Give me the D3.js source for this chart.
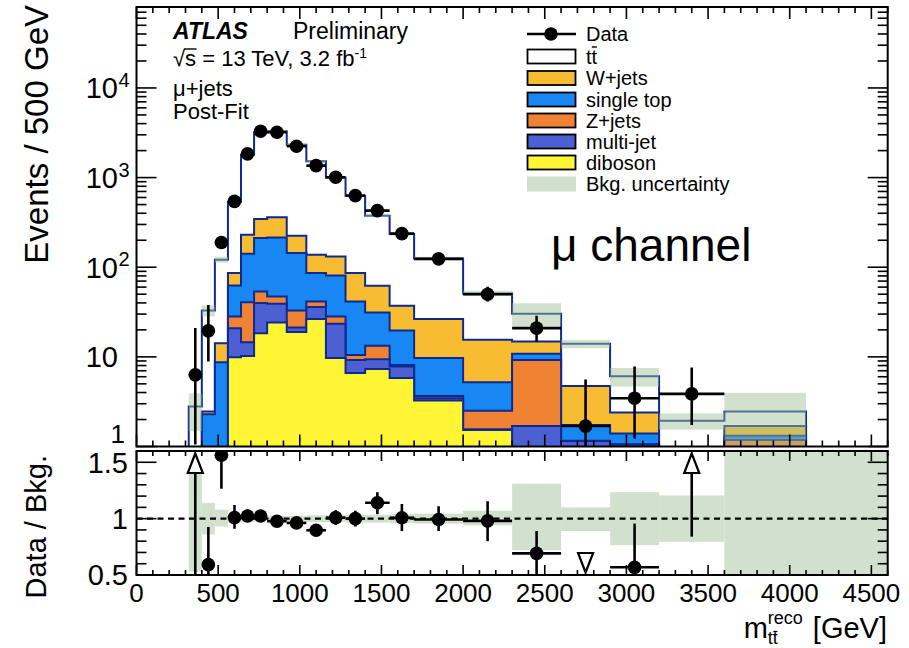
<!DOCTYPE html>
<html>
<head>
<meta charset="utf-8">
<script src="https://cdn.jsdelivr.net/npm/d3@7/dist/d3.min.js"></script>
<style>
  html, body { margin: 0; padding: 0; background: #ffffff; }
  svg { display: block; font-family: "Liberation Sans", Arial, Helvetica, sans-serif; }
</style>
</head>
<body>
<svg id="chart" width="909" height="648"></svg>
<script>
// ---- Binning of the reconstructed m(tt) distribution [GeV] ----
const binEdges = [320, 400, 480, 560, 640, 720, 800, 920, 1040, 1160, 1280, 1400, 1550, 1700, 2000, 2300, 2600, 2900, 3200, 3600, 4100, 4600];

// ---- Post-fit predictions, events / 500 GeV ----
const ttbar     = [2.3, 30.5, 106.8, 452, 1567, 2867, 2922, 2101, 1379, 866, 543, 313, 198, 98.6, 35.5, 15.4, 9.3, 3.7, 1.34, 0.76, 0];
const wjets     = [0.2, 0.16, 5.5, 23.5, 89.4, 134, 145, 81, 52, 51, 44.5, 30.9, 17.4, 16.7, 10.3, 4.0, 3.0, 0.99, 0.3, 0.37, 0];
const singleTop = [0.15, 1.79, 7.9, 34.4, 100.8, 158.3, 167.8, 111.1, 44.5, 52.8, 31, 18, 11.6, 6.03, 2.69, 1.55, 0.58, 0.34, 0.1, 0.14, 0];
const zjets     = [0.05, 0.3, 0.3, 7.3, 26.2, 13.9, 8.1, 11.6, 5.6, 4.8, 1.25, 3.9, 0.3, 0.21, 0.95, 7.56, 0.01, 0.01, 0.1, 0.78, 0];
const multijet  = [0.05, 0.1, 0.2, 11.0, 4.35, 21.4, 14.9, 2.4, 9.5, 13.7, 2.65, 2.1, 2.0, 0.21, 0.03, 1.29, 1.05, 0.95, 0.05, 0.1, 0];
const diboson   = [0.05, 0.1, 0.3, 9.9, 10.25, 18.4, 24.2, 18.9, 26.4, 9.7, 6.6, 7.3, 5.8, 3.25, 1.53, 0.4, 0.1, 0.1, 0.05, 0.3, 0];

// ---- Data, events / 500 GeV, with error bar ends ----
const dataValues  = [6.3, 19.5, 189, 543, 1841, 3290, 3207, 2238, 1361, 1007, 629, 428, 237, 124, 50, 20.9, 1.69, 3.46, 3.86, 0, 0];
const dataErrLow  = [1.05, 8.9, 160, 488, 1735, 3150, 3090, 2145, 1290, 945, 580, 392, 210, 110, 41.5, 14.8, 0.2, 1.23, 1.74, 0, 0];
const dataErrHigh = [21, 38, 222, 601, 1950, 3435, 3325, 2335, 1435, 1072, 680, 466, 266, 139, 60.5, 28.7, 5.6, 7.8, 7.6, 0, 0];

// ---- Data / Bkg. error bar ends ----
const ratioErrLow  = [0.0, 0.3, 1.265, 0.91, 0.97, 0.985, 0.94, 0.92, 0.86, 0.945, 0.93, 1.04, 0.89, 0.89, 0.80, 0.3, 0.0, 0.2, 0.84, 0, 0];
const ratioErrHigh = [3.0, 0.926, 1.9, 1.12, 1.08, 1.065, 1.015, 1.005, 0.935, 1.075, 1.07, 1.235, 1.13, 1.11, 1.155, 0.89, 0.0, 0.956, 3.0, 0, 0];

// ---- Relative background uncertainty (down / up) ----
const bandLow  = [0.53, 0.86, 0.93, 0.965, 0.97, 0.975, 0.975, 0.975, 0.97, 0.97, 0.965, 0.965, 0.96, 0.955, 0.94, 0.72, 0.89, 0.765, 0.794, 0.2, 0.2];
const bandHigh = [1.40, 1.14, 1.08, 1.035, 1.03, 1.025, 1.025, 1.025, 1.03, 1.03, 1.035, 1.035, 1.04, 1.045, 1.07, 1.31, 1.10, 1.235, 1.206, 1.62, 1.8];

// ---- Axis ticks ----
const xTickLabels = [0, 500, 1000, 1500, 2000, 2500, 3000, 3500, 4000, 4500];
const yDecades = [0, 1, 2, 3, 4];
const ratioTickLabels = [0.5, 1, 1.5];

// ---- Legend ----
const legendLabels = ["Data", "tt", "W+jets", "single top", "Z+jets", "multi-jet", "diboson", "Bkg. uncertainty"];
const legendKeys   = ["data", "ttbar", "wjets", "singletop", "zjets", "multijet", "diboson", "band"];

// ---------------------------------------------------------------
const svg = d3.select("#chart");
const left = 136.5, right = 887.7;
const mainTop = 7, mainBottom = 446.5;
const ratioTop = 451, ratioBottom = 575;

const x = d3.scaleLinear().domain([0, 4600]).range([left, right]);
const y = d3.scaleLog().domain([1, 8e4]).range([mainBottom, mainTop]);
const yr = d3.scaleLinear().domain([0.5, 1.6]).range([ratioBottom, ratioTop]);

const layerKeys = ["diboson", "multijet", "zjets", "singletop", "wjets", "ttbar"];
const layerColors = {
  ttbar: "#ffffff", wjets: "#f8bc33", singletop: "#1886f3",
  zjets: "#ef8233", multijet: "#4c60d4", diboson: "#fff534"
};
const outlineColor = "#0e2a8e";
const bandColor = "rgb(161,192,151)";
const bandSolid = "rgb(210,225,205)";

const rows = binEdges.slice(0, -1).map((e, i) => ({
  lo: e, hi: binEdges[i + 1],
  diboson: diboson[i], multijet: multijet[i], zjets: zjets[i],
  singletop: singleTop[i], wjets: wjets[i], ttbar: ttbar[i]
}));
const stacked = d3.stack().keys(layerKeys)(rows);
const totals = stacked[stacked.length - 1].map(d => d[1]);
const mainBins = rows.map((r, i) => i).filter(i => totals[i] > 0);

svg.append("rect").attr("width", 909).attr("height", 648).attr("fill", "#fff");

const defs = svg.append("defs");
defs.append("clipPath").attr("id", "clipMain").append("rect")
  .attr("x", left).attr("y", mainTop).attr("width", right - left).attr("height", mainBottom - mainTop);
defs.append("clipPath").attr("id", "clipRatio").append("rect")
  .attr("x", left).attr("y", ratioTop).attr("width", right - left).attr("height", ratioBottom - ratioTop);

// ---------------- main panel: stacked histograms ----------------
const gMain = svg.append("g").attr("clip-path", "url(#clipMain)");
const yv = v => (v > 1 ? y(v) : mainBottom + 4);
const line = d3.line();

function stepPoints(vals) {
  const first = mainBins[0], last = mainBins[mainBins.length - 1];
  const pts = [[x(binEdges[first]), mainBottom + 4]];
  mainBins.forEach(i => {
    pts.push([x(binEdges[i]), yv(vals[i])]);
    pts.push([x(binEdges[i + 1]), yv(vals[i])]);
  });
  pts.push([x(binEdges[last + 1]), mainBottom + 4]);
  return pts;
}

// top layer first, so each lower layer paints over it
for (let k = stacked.length - 1; k >= 0; k--) {
  const layer = stacked[k];
  const tops = layer.map(d => d[1]);
  gMain.append("path")
    .attr("d", line(stepPoints(tops)) + "Z")
    .attr("fill", layerColors[layer.key])
    .attr("stroke", outlineColor)
    .attr("stroke-width", 2)
    .attr("stroke-linejoin", "miter");
}

// background uncertainty band
gMain.selectAll("rect.band").data(mainBins).enter().append("rect")
  .attr("class", "band")
  .attr("x", i => x(binEdges[i]))
  .attr("width", i => x(binEdges[i + 1]) - x(binEdges[i]))
  .attr("y", i => y(totals[i] * bandHigh[i]))
  .attr("height", i => yv(totals[i] * bandLow[i]) - y(totals[i] * bandHigh[i]))
  .attr("fill", bandColor).attr("fill-opacity", 0.48);

// data points
const dataBins = rows.map((r, i) => i).filter(i => dataValues[i] > 0);
const gData = gMain.append("g");
dataBins.forEach(i => {
  const cx = x((binEdges[i] + binEdges[i + 1]) / 2);
  gData.append("line")
    .attr("x1", x(binEdges[i])).attr("x2", x(binEdges[i + 1]))
    .attr("y1", y(dataValues[i])).attr("y2", y(dataValues[i]))
    .attr("stroke", "#000").attr("stroke-width", 2.6);
  gData.append("line")
    .attr("x1", cx).attr("x2", cx)
    .attr("y1", yv(dataErrLow[i])).attr("y2", y(dataErrHigh[i]))
    .attr("stroke", "#000").attr("stroke-width", 2.6);
  gData.append("circle").attr("cx", cx).attr("cy", y(dataValues[i])).attr("r", 6.8).attr("fill", "#000");
});

// ---------------- ratio panel ----------------
const gRatio = svg.append("g").attr("clip-path", "url(#clipRatio)");
gRatio.selectAll("rect.rband").data(rows.map((r, i) => i)).enter().append("rect")
  .attr("class", "rband")
  .attr("x", i => x(binEdges[i]))
  .attr("width", i => x(binEdges[i + 1]) - x(binEdges[i]))
  .attr("y", i => yr(bandHigh[i]))
  .attr("height", i => yr(bandLow[i]) - yr(bandHigh[i]))
  .attr("fill", bandSolid);

gRatio.append("line")
  .attr("x1", left).attr("x2", right).attr("y1", yr(1)).attr("y2", yr(1))
  .attr("stroke", "#000").attr("stroke-width", 2.2).attr("stroke-dasharray", "6,4.5");

dataBins.forEach(i => {
  const cx = x((binEdges[i] + binEdges[i + 1]) / 2);
  const r = dataValues[i] / totals[i];
  if (r > 1.6) {
    // off-scale upwards: open arrow
    const lo = Math.max(ratioErrLow[i], 0.4);
    gRatio.append("line").attr("x1", cx).attr("x2", cx)
      .attr("y1", yr(lo)).attr("y2", ratioTop + 22)
      .attr("stroke", "#000").attr("stroke-width", 2.6);
    gRatio.append("path")
      .attr("d", line([[cx, ratioTop + 2.5], [cx - 7.5, ratioTop + 22], [cx + 7.5, ratioTop + 22]]) + "Z")
      .attr("fill", "#fff").attr("stroke", "#000").attr("stroke-width", 2.2);
  } else if (r < 0.5) {
    // off-scale downwards: open arrow
    gRatio.append("path")
      .attr("d", line([[cx, ratioBottom - 2.5], [cx - 7.5, ratioBottom - 22], [cx + 7.5, ratioBottom - 22]]) + "Z")
      .attr("fill", "#fff").attr("stroke", "#000").attr("stroke-width", 2.2);
  } else {
    gRatio.append("line")
      .attr("x1", x(binEdges[i])).attr("x2", x(binEdges[i + 1]))
      .attr("y1", yr(r)).attr("y2", yr(r))
      .attr("stroke", "#000").attr("stroke-width", 2.6);
    gRatio.append("line").attr("x1", cx).attr("x2", cx)
      .attr("y1", yr(Math.max(ratioErrLow[i], 0.4))).attr("y2", yr(Math.min(ratioErrHigh[i], 1.7)))
      .attr("stroke", "#000").attr("stroke-width", 2.6);
    gRatio.append("circle").attr("cx", cx).attr("cy", yr(r)).attr("r", 6.8).attr("fill", "#000");
  }
});

// ---------------- frames and ticks ----------------
const axes = svg.append("g").attr("stroke", "#000").attr("stroke-width", 1.6);
function tick(x1, y1, x2, y2) {
  axes.append("line").attr("x1", x1).attr("y1", y1).attr("x2", x2).attr("y2", y2);
}
// x ticks, both panels, top and bottom edges
d3.range(0, 4601, 100).forEach(v => {
  const major = v % 500 === 0;
  const px = x(v);
  const lm = major ? 12 : 6;
  tick(px, mainBottom, px, mainBottom - lm);
  tick(px, mainTop, px, mainTop + lm);
  const lr = major ? 10 : 5;
  tick(px, ratioBottom, px, ratioBottom - lr);
  tick(px, ratioTop, px, ratioTop + lr);
});
// log y ticks, main panel
yDecades.forEach(p => {
  d3.range(1, 10).forEach(m => {
    const v = m * Math.pow(10, p);
    if (v > 8e4) return;
    const py = y(v);
    const l = m === 1 ? 20 : 10;
    tick(left, py, left + l, py);
    tick(right, py, right - l, py);
  });
});
// ratio y ticks
d3.range(5, 17).forEach(k => {
  const v = k / 10;
  const py = yr(v);
  const l = (k % 5 === 0) ? 20 : 10;
  tick(left, py, left + l, py);
  tick(right, py, right - l, py);
});
svg.append("rect").attr("x", left).attr("y", mainTop).attr("width", right - left).attr("height", mainBottom - mainTop)
  .attr("fill", "none").attr("stroke", "#000").attr("stroke-width", 2);
svg.append("rect").attr("x", left).attr("y", ratioTop).attr("width", right - left).attr("height", ratioBottom - ratioTop)
  .attr("fill", "none").attr("stroke", "#000").attr("stroke-width", 2);

// ---------------- tick labels ----------------
const labels = svg.append("g").attr("fill", "#000");
xTickLabels.forEach(v => {
  labels.append("text").attr("x", x(v)).attr("y", 602).attr("text-anchor", "middle")
    .attr("font-size", 26).text(v);
});
yDecades.forEach(p => {
  const py = y(Math.pow(10, p));
  if (p === 0) {
    labels.append("text").attr("x", 125).attr("y", 443).attr("text-anchor", "end").attr("font-size", 26).text("1");
  } else {
    labels.append("text").attr("x", 118).attr("y", py + 10.4).attr("text-anchor", "end").attr("font-size", 29).text("10");
    if (p > 1) {
      labels.append("text").attr("x", 118.5).attr("y", py - 1).attr("font-size", 20).text(p);
    }
  }
});
ratioTickLabels.forEach(v => {
  labels.append("text").attr("x", 128).attr("y", yr(v) + 10.4).attr("text-anchor", "end")
    .attr("font-size", 29).text(v);
});

// axis titles
labels.append("text").attr("transform", "translate(48,5) rotate(-90)")
  .attr("text-anchor", "end").attr("font-size", 33).text("Events / 500 GeV");
labels.append("text").attr("transform", "translate(46,455) rotate(-90)")
  .attr("text-anchor", "end").attr("font-size", 29).text("Data / Bkg.");

const gev = labels.append("text").attr("x", 887).attr("y", 638).attr("text-anchor", "end")
  .attr("font-size", 29).text("[GeV]");
const gevStart = 887 - gev.node().getComputedTextLength();
labels.append("text").attr("x", gevStart - 45).attr("y", 624).attr("font-size", 18).text("reco");
const sub = labels.append("text").attr("x", gevStart - 45).attr("y", 644).attr("font-size", 18).text("tt");
labels.append("text").attr("x", gevStart - 45).attr("y", 638).attr("text-anchor", "end")
  .attr("font-size", 29).text("m");
{
  const n = sub.node();
  const x0 = n.getStartPositionOfChar(1).x, x1 = n.getEndPositionOfChar(1).x;
  labels.append("line").attr("x1", x0 + 0.5).attr("x2", x1 - 0.5).attr("y1", 631.5).attr("y2", 631.5)
    .attr("stroke", "#000").attr("stroke-width", 1.3);
}

// ---------------- annotations ----------------
labels.append("text").attr("x", 173).attr("y", 39).attr("font-size", 23)
  .attr("font-weight", "bold").attr("font-style", "italic").text("ATLAS");
labels.append("text").attr("x", 293).attr("y", 39).attr("font-size", 23).text("Preliminary");
const sqrtText = labels.append("text").attr("x", 173).attr("y", 66).attr("font-size", 22);
sqrtText.append("tspan").text("\u221As = 13 TeV, 3.2 fb");
sqrtText.append("tspan").attr("font-size", 14).attr("dy", -8).text("-1");
{
  const n = sqrtText.node();
  const sx0 = n.getStartPositionOfChar(1).x, sx1 = n.getEndPositionOfChar(1).x;
  labels.append("line").attr("x1", sx0 - 1).attr("x2", sx1 + 0.5).attr("y1", 49).attr("y2", 49)
    .attr("stroke", "#000").attr("stroke-width", 1.4);
}
labels.append("text").attr("x", 173).attr("y", 96).attr("font-size", 22).text("\u03BC+jets");
labels.append("text").attr("x", 173).attr("y", 119).attr("font-size", 22).text("Post-Fit");
labels.append("text").attr("x", 551).attr("y", 261).attr("font-size", 46).text("\u03BC channel");

// ---------------- legend ----------------
const legendY = [34, 56.5, 78, 99.5, 120.5, 141.5, 162.5, 184];
const gLeg = svg.append("g");
legendKeys.forEach((key, i) => {
  const cy = legendY[i];
  if (key === "data") {
    gLeg.append("line").attr("x1", 527).attr("x2", 576).attr("y1", cy).attr("y2", cy)
      .attr("stroke", "#000").attr("stroke-width", 2.6);
    gLeg.append("circle").attr("cx", 551).attr("cy", cy).attr("r", 6.8).attr("fill", "#000");
  } else if (key === "band") {
    gLeg.append("rect").attr("x", 527).attr("y", cy - 7.5).attr("width", 49).attr("height", 15)
      .attr("fill", bandSolid);
  } else {
    gLeg.append("rect").attr("x", 527.5).attr("y", cy - 7).attr("width", 48).attr("height", 14)
      .attr("fill", layerColors[key]).attr("stroke", "#000").attr("stroke-width", 1.8);
  }
  const t = gLeg.append("text").attr("x", 586).attr("y", cy + 7).attr("font-size", 20).text(legendLabels[i]);
  if (key === "ttbar") {
    const n = t.node();
    const x0 = n.getStartPositionOfChar(1).x, x1 = n.getEndPositionOfChar(1).x;
    gLeg.append("line").attr("x1", x0 + 0.3).attr("x2", x1 - 0.3).attr("y1", cy - 9.5).attr("y2", cy - 9.5)
      .attr("stroke", "#000").attr("stroke-width", 1.4);
  }
});
</script>
</body>
</html>
